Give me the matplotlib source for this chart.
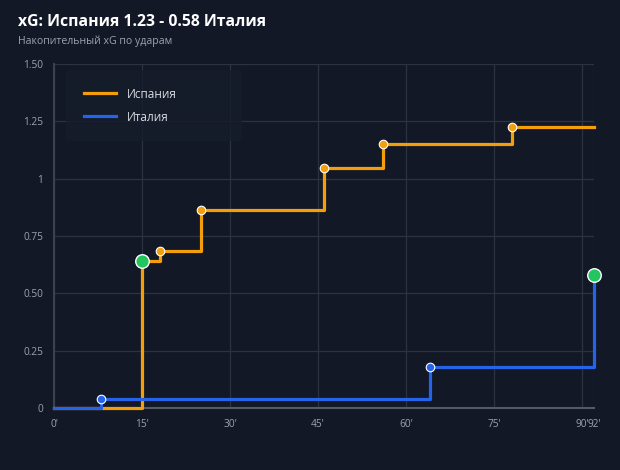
import matplotlib.pyplot as plt
import numpy as np

# shots: minute and xG
spain_min = [15, 18, 25, 46, 56, 78]
spain_xg = [0.64, 0.045, 0.18, 0.18, 0.105, 0.075]
spain_goal = [True, False, False, False, False, False]

italy_min = [8, 64, 92]
italy_xg = [0.04, 0.14, 0.40]
italy_goal = [False, False, True]

x_ticks = [0, 15, 30, 45, 60, 75, 90, 92]
x_labels = ["0'", "15'", "30'", "45'", "60'", "75'", "90'", "92'"]
y_ticks = [0, 0.25, 0.5, 0.75, 1, 1.25, 1.5]
y_labels = ["0", "0.25", "0.50", "0.75", "1", "1.25", "1.50"]

end_min = 92
bg = '#121826'
orange = '#f59e0b'
blue = '#2563eb'
green = '#22c55e'

plt.rcParams['font.family'] = ['Open Sans', 'DejaVu Sans']

fig = plt.figure(figsize=(6.2, 4.7), dpi=100, facecolor=bg)
ax = fig.add_axes([0.0871, 0.1319, 0.8710, 0.7319])
ax.set_facecolor(bg)


def draw_team(mins, xg, goals, color, label, z):
    cum = np.cumsum(xg)
    xs = [0] + mins + [end_min]
    ys = [0] + list(cum) + [cum[-1]]
    ax.step(xs, ys, where='post', color=color, lw=2.3, label=label,
           zorder=z, clip_on=False)
    for m, c, g in zip(mins, cum, goals):
        if g:
            ax.scatter(m, c, s=95, color=green, edgecolor='white', linewidth=1.0,
                       zorder=z + 2, clip_on=False)
        else:
            ax.scatter(m, c, s=38, color=color, edgecolor='white', linewidth=0.8,
                       zorder=z + 1, clip_on=False)


draw_team(spain_min, spain_xg, spain_goal, orange, 'Испания', 3)
draw_team(italy_min, italy_xg, italy_goal, blue, 'Италия', 6)

ax.set_xlim(0, 92)
ax.set_ylim(0, 1.5)
ax.set_xticks(x_ticks)
ax.set_xticklabels(x_labels)
ax.set_yticks(y_ticks)
ax.set_yticklabels(y_labels)
ax.grid(True, color='#2b3240', lw=0.9)
ax.set_axisbelow(True)
ax.tick_params(colors='#9ca3af', labelsize=7.3, length=0, pad=8)
for s in ['top', 'right']:
    ax.spines[s].set_visible(False)
for s in ['left', 'bottom']:
    ax.spines[s].set_color('#555b66')
    ax.spines[s].set_linewidth(1.5)
ax.spines['left'].set_color('#3a4150')

leg = ax.legend(loc='upper left', bbox_to_anchor=(0.0222, 0.812, 0.326, 0.171),
                mode='expand', frameon=True,
                facecolor='#151c2b', edgecolor='none', fontsize=8.5,
                labelcolor='#d8dce3', handlelength=2.7, borderpad=1.5,
                labelspacing=0.85, handletextpad=0.95, borderaxespad=0)
leg.get_frame().set_alpha(0.8)
for line in leg.get_lines():
    line.set_linewidth(2.3)

fig.text(0.029, 0.953, 'xG: Испания 1.23 - 0.58 Италия', color='white',
         fontsize=11.3, fontweight='bold', va='center')
fig.text(0.029, 0.912, 'Накопительный xG по ударам', color='#9ca3af',
         fontsize=7.6, va='center')

fig.savefig('out.png', dpi=100, facecolor=bg)
